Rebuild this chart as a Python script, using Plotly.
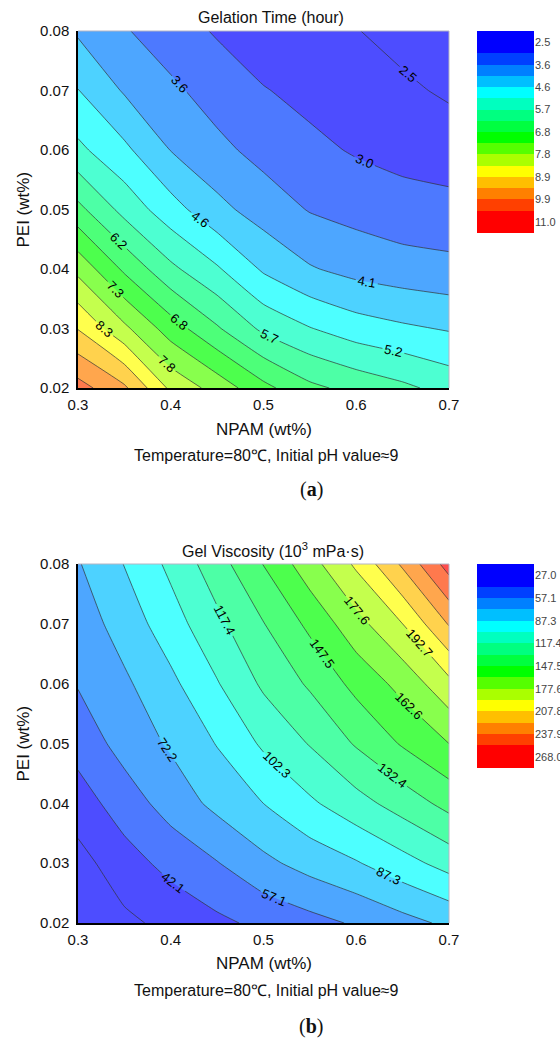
import plotly.graph_objects as go

W, H = 560, 1042

# grid
npam = [0.30, 0.35, 0.40, 0.45, 0.50, 0.55, 0.60, 0.65, 0.70]
pei = [0.02, 0.03, 0.04, 0.05, 0.06, 0.07, 0.08]
npam_ticks = [0.3, 0.4, 0.5, 0.6, 0.7]

# gelation time (hour), rows = pei, cols = npam
gel_time = [
    [10.15, 9.50, 8.23, 7.60, 6.90, 6.34, 6.05, 5.80, 5.50],
    [8.85, 7.93, 7.02, 6.28, 5.57, 5.18, 4.88, 4.71, 4.58],
    [7.66, 6.65, 5.81, 5.22, 4.55, 4.14, 3.92, 3.80, 3.72],
    [6.37, 5.51, 4.84, 4.25, 3.85, 3.53, 3.38, 3.23, 3.18],
    [5.28, 4.74, 4.08, 3.70, 3.39, 3.16, 2.98, 2.87, 2.79],
    [4.64, 4.04, 3.67, 3.33, 3.06, 2.88, 2.74, 2.60, 2.42],
    [4.02, 3.61, 3.27, 2.98, 2.73, 2.64, 2.52, 2.32, 2.20],
]

# gel viscosity (10^3 mPa.s)
gel_visc = [
    [15.0, 23.7, 31.2, 38.8, 45.7, 52.1, 58.9, 67.0, 75.2],
    [21.5, 35.7, 46.8, 56.4, 68.5, 77.9, 86.0, 96.8, 108.0],
    [34.8, 49.5, 63.4, 76.2, 87.3, 99.8, 111.8, 124.0, 137.3],
    [47.9, 62.7, 74.2, 88.0, 104.8, 118.3, 134.0, 149.1, 162.6],
    [58.1, 69.6, 83.7, 101.3, 119.9, 134.6, 152.0, 167.6, 188.4],
    [64.0, 78.7, 95.6, 113.6, 131.9, 151.0, 172.2, 192.7, 224.0],
    [71.0, 87.7, 105.8, 126.0, 148.0, 171.5, 195.3, 225.3, 259.5],
]

# contour levels: start, end, step
time_levels = (2.5, 11.0, 0.53125)
visc_levels = (27.0, 268.0, 15.0625)

time_ticks = ["2.5", "3.6", "4.6", "5.7", "6.8", "7.8", "8.9", "9.9", "11.0"]
visc_ticks = ["27.0", "57.1", "87.3", "117.4", "147.5", "177.6", "207.8", "237.9", "268.0"]

# below-range, 16 bands, above-range
band_colors = ["#0000FF", "#0000FF", "#0040FF", "#0080FF", "#00BFFF", "#00FFFF",
               "#00FFBF", "#00FF80", "#00FF40", "#00FF00", "#55FF00", "#AAFF00",
               "#FFFF00", "#FFBF00", "#FF8000", "#FF4000", "#FF0000", "#FF0000"]

FONT = "Arial, Liberation Sans, sans-serif"


def blend(c, a=0.7):
    rgb = [int(c[i:i + 2], 16) for i in (1, 3, 5)]
    return "rgb(%d,%d,%d)" % tuple(round(a * v + (1 - a) * 255) for v in rgb)


def step_scale(colors):
    n = len(colors) - 1
    out = []
    for k, c in enumerate(colors):
        out.append([max(0.0, (k - 0.5) / n), c])
        out.append([min(1.0, (k + 0.5) / n), c])
    return out


panels = [
    dict(z=gel_time, lv=time_levels, ticks=time_ticks, top=31, bot=388, cb_bot=233,
         title="Gelation Time (hour)", t_y=17, lab="(<b>a</b>)", lab_y=490,
         xt_y=429, note_y=455, title_x=271),
    dict(z=gel_visc, lv=visc_levels, ticks=visc_ticks, top=564, bot=923, cb_bot=768,
         title="Gel Viscosity (10<sup>3</sup> mPa·s)", t_y=550, lab="(<b>b</b>)", lab_y=1026,
         xt_y=963, note_y=990, title_x=273),
]

fig = go.Figure()
layout = dict(width=W, height=H, margin=dict(l=0, r=0, t=0, b=0, autoexpand=False),
              paper_bgcolor="white", plot_bgcolor="white",
              font=dict(family=FONT, color="#111"), showlegend=False)
annotations = []
shapes = []


def note(text, x, y, size, angle=0, family=FONT):
    annotations.append(dict(text=text, x=x / W, y=1 - y / H, xref="paper", yref="paper",
                            xanchor="center", yanchor="middle", showarrow=False,
                            textangle=angle, font=dict(size=size, family=family, color="#111")))


for i, p in enumerate(panels):
    px_ax = "x" if i == 0 else "x3"
    py_ax = "y" if i == 0 else "y3"
    cb_x = "x2" if i == 0 else "x4"
    cb_y = "y2" if i == 0 else "y4"
    start, end, size = p["lv"]

    fig.add_trace(go.Contour(
        x=npam, y=pei, z=p["z"], xaxis=px_ax, yaxis=py_ax,
        autocontour=False,
        contours=dict(start=start, end=end, size=size, coloring="fill",
                      showlabels=True, labelformat=".1f",
                      labelfont=dict(size=13, color="black", family=FONT)),
        colorscale=step_scale([blend(c) for c in band_colors]),
        showscale=False, line=dict(color="#333", width=0.7, smoothing=0.4),
        hoverinfo="skip"))

    nb = len(band_colors)
    fig.add_trace(go.Heatmap(
        z=[[k] for k in range(nb)], x=[0], y=list(range(nb)),
        xaxis=cb_x, yaxis=cb_y, colorscale=step_scale(band_colors),
        zmin=0, zmax=nb - 1, showscale=False, hoverinfo="skip"))

    ydom = [1 - p["bot"] / H, 1 - p["top"] / H]
    axx = dict(domain=[78 / W, 449 / W], range=[0.3, 0.7], tickvals=npam_ticks,
               tickformat=".1f", showline=True, linecolor="black", linewidth=1.5,
               ticks="outside", ticklen=2, tickcolor="rgba(0,0,0,0)",
               tickfont=dict(size=15, color="#111"), showgrid=False, zeroline=False,
               anchor=py_ax, automargin=False)
    axy = dict(domain=ydom, range=[0.02, 0.08], tickvals=pei, tickformat=".2f",
               showline=True, linecolor="black", linewidth=1.5,
               ticks="outside", ticklen=4, tickcolor="rgba(0,0,0,0)",
               tickfont=dict(size=15, color="#111"), showgrid=False, zeroline=False,
               anchor=px_ax, automargin=False)
    cbx = dict(domain=[477 / W, 534 / W], range=[-0.5, 0.5], visible=False,
               anchor=cb_y, automargin=False)
    cby = dict(domain=[1 - p["cb_bot"] / H, 1 - p["top"] / H], range=[nb - 0.5, -0.5],
               tickvals=[k + 0.5 for k in range(0, nb - 1, 2)], ticktext=p["ticks"],
               side="right", ticks="", showgrid=False, zeroline=False, showline=False,
               tickfont=dict(size=11, color="#444"), anchor=cb_x, automargin=False)

    layout["xaxis" if i == 0 else "xaxis3"] = axx
    layout["yaxis" if i == 0 else "yaxis3"] = axy
    layout["xaxis2" if i == 0 else "xaxis4"] = cbx
    layout["yaxis2" if i == 0 else "yaxis4"] = cby

    # light top/right frame
    for x0, y0, x1, y1 in [(78, p["top"], 449, p["top"]), (449, p["top"], 449, p["bot"])]:
        shapes.append(dict(type="line", xref="paper", yref="paper",
                           x0=x0 / W, y0=1 - y0 / H, x1=x1 / W, y1=1 - y1 / H,
                           line=dict(color="#b4b4c4", width=1)))

    note(p["title"], p["title_x"], p["t_y"], 16)
    note("NPAM (wt%)", 264, p["xt_y"], 17)
    note("PEI (wt%)", 23, (p["top"] + p["bot"]) / 2, 17, angle=-90)
    note("Temperature=80℃, Initial pH value≈9", 266, p["note_y"], 16)
    note(p["lab"], 311, p["lab_y"], 20, family="Liberation Serif, Times New Roman, serif")

layout["annotations"] = annotations
layout["shapes"] = shapes
fig.update_layout(**layout)
fig.write_html("out.html", config={"displayModeBar": False},
               post_script="document.body.style.margin='0';document.body.style.overflow='hidden';")
